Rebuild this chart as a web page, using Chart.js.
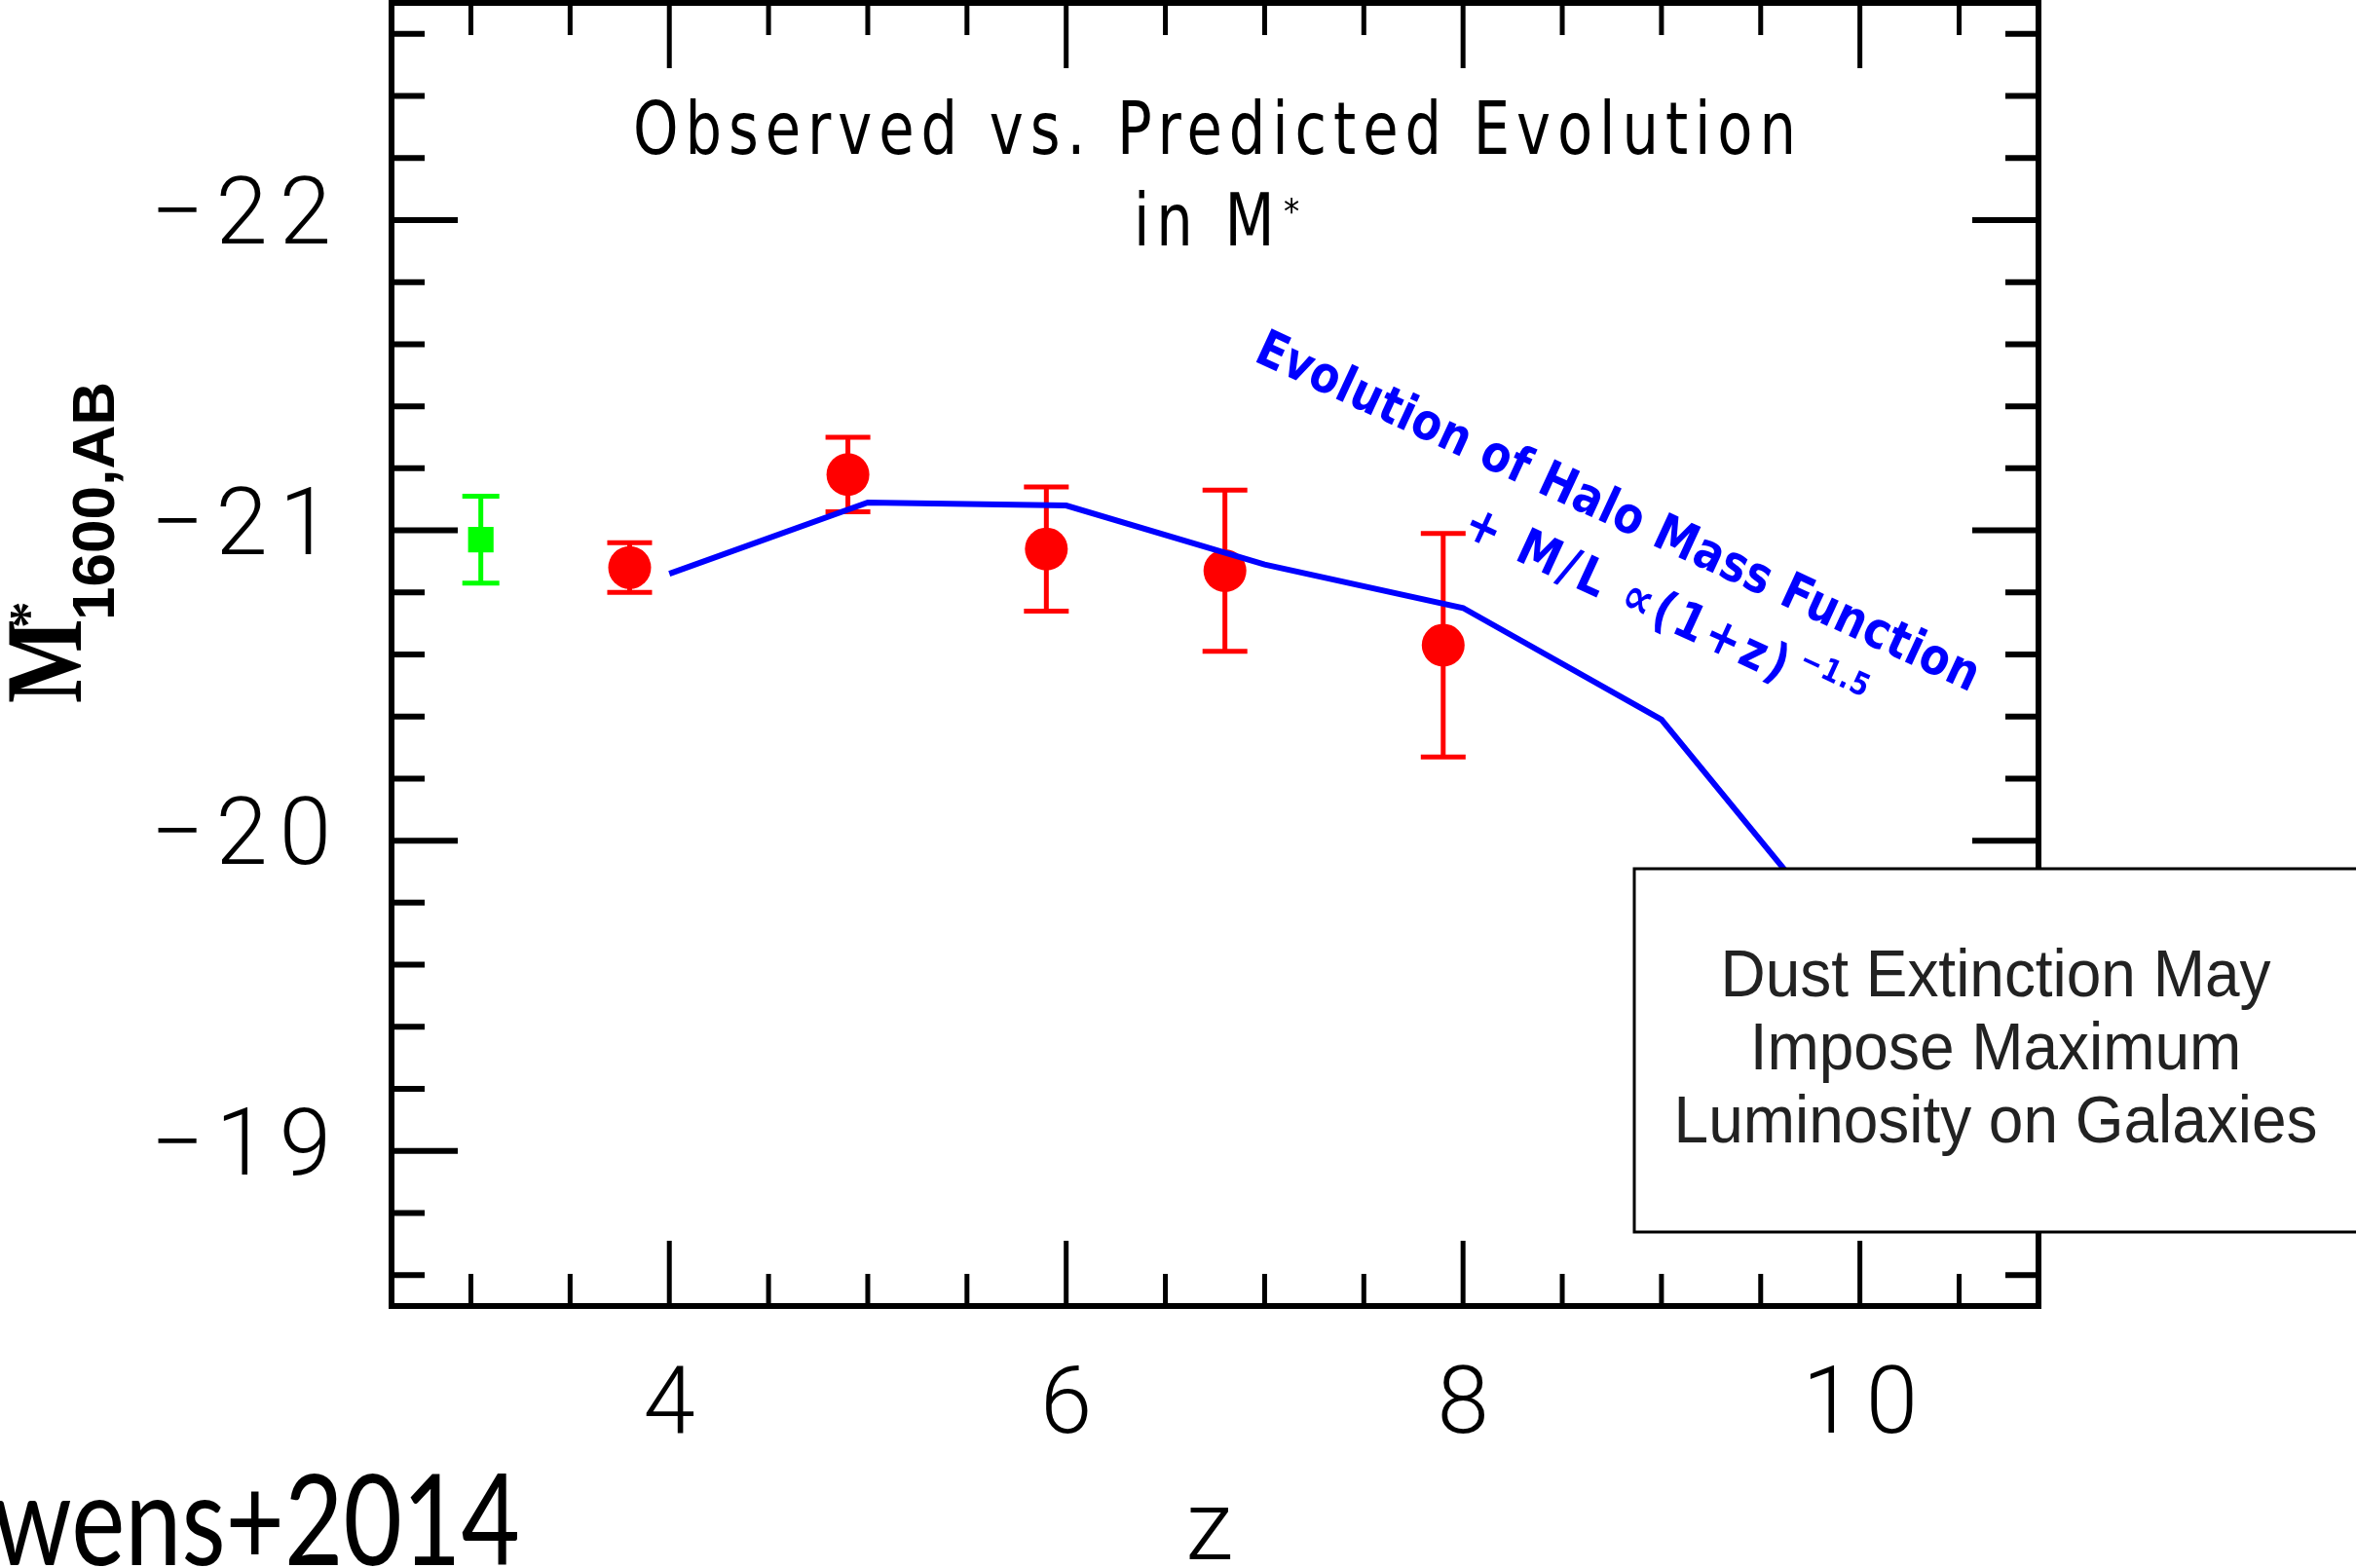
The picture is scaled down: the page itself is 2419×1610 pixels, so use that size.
<!DOCTYPE html>
<html>
<head>
<meta charset="utf-8">
<script src="https://cdn.jsdelivr.net/npm/chart.js@4.4.0/dist/chart.umd.min.js"></script>
<style>
  html, body { margin: 0; padding: 0; background: #fff; }
  canvas { display: block; }
</style>
</head>
<body>
<canvas id="mstarChart" width="2419" height="1610"></canvas>
<script>
// Bouwens+2014 points (red)
const obsZ = [3.8, 4.9, 5.9, 6.8, 7.9];
const obsM = [-20.88, -21.18, -20.94, -20.87, -20.63];
const obsLo = [-20.96, -21.30, -21.14, -21.13, -20.99];
const obsHi = [-20.80, -21.06, -20.74, -20.61, -20.27];

// z~3 point (green)
const lbgZ = [3.05];
const lbgM = [-20.97];
const lbgLo = [-21.11];
const lbgHi = [-20.83];

// halo mass function + M/L model (blue)
const modelZ = [4, 5, 6, 7, 8, 9, 10];
const modelM = [-20.86, -21.09, -21.08, -20.89, -20.75, -20.39, -19.61];

const xTicks = [4, 6, 8, 10];
const yTicks = [-22, -21, -20, -19];
const xMinorStep = 0.5;
const yMinorStep = 0.2;

const numFont = { family: 'Roboto', size: 96, weight: 300 };

function isMajor(list, v) {
  return list.some(t => Math.abs(t - v) < 1e-6);
}

// draw text squeezed by sx, with letter spacing ls
function drawSpaced(ctx, text, x, y, ls, sx) {
  ctx.save();
  ctx.translate(x, y);
  ctx.scale(sx, 1);
  ctx.letterSpacing = ls + 'px';
  ctx.textAlign = 'left';
  ctx.fillText(text, 0, 0);
  ctx.restore();
}

// spread text over a given width, returns the spacing used
function spreadText(ctx, text, x, y, width, sx = 1) {
  ctx.save();
  ctx.letterSpacing = '0px';
  const w = ctx.measureText(text).width;
  ctx.restore();
  const n = [...text].length;
  const ls = (width / sx - w) / Math.max(n - 1, 1);
  drawSpaced(ctx, text, x, y, ls, sx);
  return ls;
}

const framePlugin = {
  id: 'frame',
  beforeDraw(chart) {
    // wider digit spacing for the tick labels
    chart.ctx.letterSpacing = '12px';
  },
  beforeDatasetsDraw(chart) {
    const { ctx, chartArea: a, scales: { x, y } } = chart;
    ctx.letterSpacing = '0px';
    ctx.save();
    ctx.strokeStyle = '#000';
    ctx.lineCap = 'butt';
    ctx.lineWidth = 5;
    const i0 = Math.ceil(x.min / xMinorStep - 1e-9);
    const i1 = Math.floor(x.max / xMinorStep + 1e-9);
    for (let i = i0; i <= i1; i++) {
      const v = i * xMinorStep;
      const px = x.getPixelForValue(v);
      const len = isMajor(xTicks, v) ? 67 : 33;
      ctx.beginPath();
      ctx.moveTo(px, a.bottom); ctx.lineTo(px, a.bottom - len);
      ctx.moveTo(px, a.top); ctx.lineTo(px, a.top + len);
      ctx.stroke();
    }
    const j0 = Math.ceil(y.min / yMinorStep - 1e-9);
    const j1 = Math.floor(y.max / yMinorStep + 1e-9);
    ctx.lineWidth = 6;
    for (let j = j0; j <= j1; j++) {
      const v = j * yMinorStep;
      const py = y.getPixelForValue(v);
      const len = isMajor(yTicks, v) ? 68 : 34;
      ctx.beginPath();
      ctx.moveTo(a.left, py); ctx.lineTo(a.left + len, py);
      ctx.moveTo(a.right, py); ctx.lineTo(a.right - len, py);
      ctx.stroke();
    }
    ctx.lineWidth = 6;
    ctx.strokeRect(a.left, a.top, a.right - a.left, a.bottom - a.top);
    ctx.restore();
  }
};

const errorBarPlugin = {
  id: 'errorBars',
  beforeDatasetsDraw(chart) {
    const { ctx, scales: { x, y } } = chart;
    chart.data.datasets.forEach(ds => {
      if (!ds.errLo) return;
      ctx.save();
      ctx.strokeStyle = ds.backgroundColor;
      ctx.lineWidth = 5;
      ds.data.forEach((p, i) => {
        const px = x.getPixelForValue(p.x);
        const yLo = y.getPixelForValue(ds.errLo[i]);
        const yHi = y.getPixelForValue(ds.errHi[i]);
        ctx.beginPath();
        ctx.moveTo(px, yLo); ctx.lineTo(px, yHi);
        ctx.moveTo(px - ds.capHalf, yLo); ctx.lineTo(px + ds.capHalf, yLo);
        ctx.moveTo(px - ds.capHalf, yHi); ctx.lineTo(px + ds.capHalf, yHi);
        ctx.stroke();
      });
      ctx.restore();
    });
  }
};

const notesPlugin = {
  id: 'notes',
  afterDraw(chart) {
    const { ctx } = chart;
    ctx.save();
    ctx.letterSpacing = '0px';
    ctx.textBaseline = 'alphabetic';

    // title
    ctx.fillStyle = '#000';
    ctx.font = '74px "DejaVu Sans"';
    const ls = spreadText(ctx, 'Observed vs. Predicted Evolution', 650, 158, 1194, 0.8);
    drawSpaced(ctx, 'in M', 1164, 252, ls, 0.8);
    ctx.font = '36px "DejaVu Sans"';
    drawSpaced(ctx, '*', 1318, 229, 0, 0.9);

    // model annotation
    ctx.save();
    ctx.translate(1286, 370);
    ctx.rotate(24.8 * Math.PI / 180);
    ctx.fillStyle = '#0000ff';
    ctx.font = 'bold 52px "DejaVu Sans"';
    spreadText(ctx, 'Evolution of Halo Mass Function', 0, 0, 812, 0.85);
    spreadText(ctx, '+ M/L \u221d(1+z)', 269, 73, 361, 0.85);
    ctx.font = 'bold 32px "DejaVu Sans"';
    spreadText(ctx, '\u22121.5', 640, 51, 75, 0.85);
    ctx.restore();

    // y axis label
    ctx.save();
    ctx.translate(83, 722);
    ctx.rotate(-Math.PI / 2);
    ctx.fillStyle = '#000';
    ctx.font = 'bold 112px "Liberation Serif"';
    drawSpaced(ctx, 'M', 0, 0, 0, 0.82);
    ctx.font = 'bold 55px "Liberation Serif"';
    drawSpaced(ctx, '*', 77, -36, 0, 1);
    ctx.font = 'bold 62px "Liberation Sans"';
    spreadText(ctx, '1600,AB', 85, 34, 245);
    ctx.restore();

    // citation, cut at the left edge
    ctx.save();
    ctx.font = '130px Lato';
    const cw = ctx.measureText('wens+2014').width;
    ctx.translate(534, 1607);
    ctx.scale(542 / cw, 1);
    ctx.textAlign = 'right';
    ctx.fillStyle = '#000';
    ctx.fillText('wens+2014', 0, 0);
    ctx.restore();

    // dust box
    ctx.fillStyle = '#fff';
    ctx.fillRect(1678, 892, 760, 373);
    ctx.strokeStyle = '#000';
    ctx.lineWidth = 3;
    ctx.strokeRect(1678, 892, 760, 373);
    ctx.fillStyle = '#222';
    ctx.font = '68px "Liberation Sans"';
    const lines = ['Dust Extinction May', 'Impose Maximum', 'Luminosity on Galaxies'];
    lines.forEach((t, i) => {
      const w = ctx.measureText(t).width * 0.94;
      drawSpaced(ctx, t, 2049 - w / 2, 1023 + i * 75, 0, 0.94);
    });

    ctx.restore();
  }
};

new Chart(document.getElementById('mstarChart'), {
  type: 'scatter',
  data: {
    datasets: [
      {
        label: 'Halo mass function + M/L',
        data: modelZ.map((z, i) => ({ x: z, y: modelM[i] })),
        showLine: true,
        borderColor: '#0000ff',
        borderWidth: 6,
        pointRadius: 0,
        fill: false
      },
      {
        label: 'Bouwens+2014',
        data: obsZ.map((z, i) => ({ x: z, y: obsM[i] })),
        backgroundColor: '#ff0000',
        borderWidth: 0,
        pointStyle: 'circle',
        pointRadius: 22,
        pointHoverRadius: 22,
        errLo: obsLo,
        errHi: obsHi,
        capHalf: 23
      },
      {
        label: 'z~3',
        data: lbgZ.map((z, i) => ({ x: z, y: lbgM[i] })),
        backgroundColor: '#00ff00',
        borderWidth: 0,
        pointStyle: 'rect',
        pointRadius: 18.5,
        pointHoverRadius: 18.5,
        errLo: lbgLo,
        errHi: lbgHi,
        capHalf: 19
      }
    ]
  },
  options: {
    responsive: false,
    animation: false,
    layout: { autoPadding: false, padding: { top: 3, right: 326, left: 0, bottom: 0 } },
    plugins: { legend: { display: false }, tooltip: { enabled: false } },
    scales: {
      x: {
        type: 'linear',
        min: 2.6,
        max: 10.9,
        grid: { display: false, drawTicks: false },
        border: { display: false },
        afterBuildTicks: s => { s.ticks = xTicks.map(v => ({ value: v })); },
        afterFit: s => { s.height = 269; s.paddingLeft = 0; s.paddingRight = 0; },
        ticks: {
          font: numFont,
          color: '#000',
          padding: 48,
          labelOffset: 6,
          maxRotation: 0,
          autoSkip: false,
          callback: v => String(v)
        },
        title: {
          display: true,
          text: 'z',
          color: '#000',
          font: { family: 'Roboto', size: 100, weight: 300, lineHeight: 0.5 },
          padding: { top: 0, bottom: 9 }
        }
      },
      y: {
        type: 'linear',
        reverse: true,
        min: -22.7,
        max: -18.5,
        grid: { display: false, drawTicks: false },
        border: { display: false },
        afterBuildTicks: s => { s.ticks = yTicks.map(v => ({ value: v })); },
        afterFit: s => { s.width = 402; s.paddingTop = 0; s.paddingBottom = 0; },
        ticks: {
          font: numFont,
          color: '#000',
          padding: 50,
          callback: v => '\u2212' + Math.abs(v)
        }
      }
    }
  },
  plugins: [framePlugin, errorBarPlugin, notesPlugin]
});
</script>
</body>
</html>
